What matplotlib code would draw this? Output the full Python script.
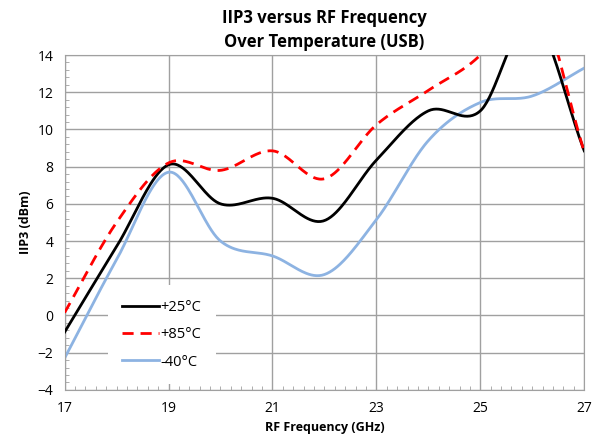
import numpy as np
import matplotlib
matplotlib.use("Agg")
from matplotlib import pyplot as plt
from matplotlib.ticker import MultipleLocator

# data (GHz, dBm)
freq = [17, 18, 19, 20, 21, 22, 23, 24, 25, 26, 27]
iip3_25 = [-0.9, 3.7, 8.1, 6.0, 6.3, 5.1, 8.35, 11.0, 11.0, 16.0, 8.85]
iip3_85 = [0.15, 5.0, 8.2, 7.8, 8.85, 7.35, 10.25, 12.1, 14.0, 17.6, 8.8]
iip3_m40 = [-2.3, 3.0, 7.7, 4.0, 3.2, 2.2, 5.15, 9.4, 11.45, 11.8, 13.3]
labels = ["+25°C", "+85°C", "-40°C"]
xticks = [17, 19, 21, 23, 25, 27]


def smooth(x, y, n=40):
    # catmull-rom style smoothing like the spreadsheet "smoothed line"
    x = np.asarray(x, float)
    y = np.asarray(y, float)
    m = np.zeros_like(y)
    m[1:-1] = (y[2:] - y[:-2]) / 2
    m[0] = y[1] - y[0]
    m[-1] = y[-1] - y[-2]
    xs, ys = [], []
    for i in range(len(x) - 1):
        t = np.linspace(0, 1, n, endpoint=False)
        h00 = 2*t**3 - 3*t**2 + 1
        h10 = t**3 - 2*t**2 + t
        h01 = -2*t**3 + 3*t**2
        h11 = t**3 - t**2
        xs.append(x[i] + t*(x[i+1] - x[i]))
        ys.append(h00*y[i] + h10*m[i] + h01*y[i+1] + h11*m[i+1])
    xs.append([x[-1]])
    ys.append([y[-1]])
    return np.concatenate(xs), np.concatenate(ys)


plt.rcParams['font.family'] = ['Open Sans', 'DejaVu Sans']

fig = plt.figure(figsize=(5.98, 4.44), dpi=100)
ax = fig.add_axes([0.108, 0.122, 0.869, 0.754])

x, y = smooth(freq, iip3_25)
ax.plot(x, y, color='black', lw=2.0, label=labels[0], zorder=3)
x, y = smooth(freq, iip3_85)
ax.plot(x, y, color='red', lw=2.0, dashes=(4, 2.5), label=labels[1], zorder=3)
x, y = smooth(freq, iip3_m40)
ax.plot(x, y, color='#8db3e2', lw=2.0, label=labels[2], zorder=2)

ax.set_xlim(17, 27)
ax.set_ylim(-4, 14)
ax.set_xticks(xticks)
ax.yaxis.set_major_locator(MultipleLocator(2))
ax.xaxis.set_minor_locator(MultipleLocator(0.2))
ax.yaxis.set_minor_locator(MultipleLocator(0.4))
ax.grid(True, which='major', color='#a0a0a0', lw=1.0)
ax.tick_params(which='major', length=0, labelsize=10, pad=8)
ax.tick_params(which='minor', direction='in', length=3, color='#a0a0a0')
for s in ax.spines.values():
    s.set_color('#a0a0a0')

ax.set_xlabel("RF Frequency (GHz)", fontsize=9, fontweight='bold')
ax.set_ylabel("IIP3 (dBm)", fontsize=9, fontweight='bold')
ax.set_title("IIP3 versus RF Frequency\nOver Temperature (USB)",
             fontsize=12, fontweight='bold', linespacing=1.4, pad=6)

leg = ax.legend(loc='lower left', bbox_to_anchor=(0.083, 0.017), frameon=True,
                fontsize=10.5, handlelength=2.5, handletextpad=0.1,
                labelspacing=0.85, borderpad=1.0, borderaxespad=0,
                fancybox=False)
leg.get_frame().set_edgecolor('none')
leg.get_frame().set_facecolor('white')
leg.get_frame().set_alpha(1)

plt.savefig("out.png", dpi=100)
